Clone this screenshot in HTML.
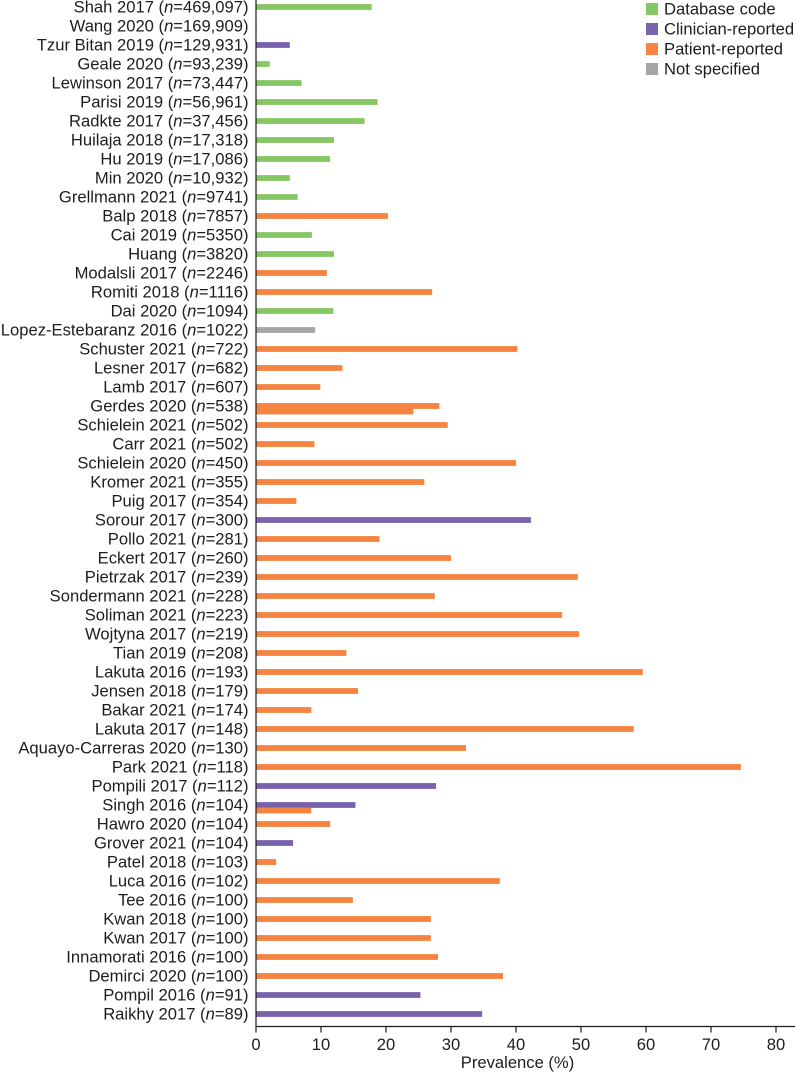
<!DOCTYPE html>
<html lang="en">
<head>
<meta charset="utf-8">
<title>Prevalence by study</title>
<style>
html,body{margin:0;padding:0;background:#fff;}
svg{display:block;font-family:"Liberation Sans",sans-serif;fill:#1d1d1b;}
</style>
</head>
<body>
<svg id="chart" xmlns="http://www.w3.org/2000/svg" width="796" height="1072" viewBox="0 0 796 1072">
  <g id="bars"></g>
  <g id="labels"></g>
  <g id="axis"></g>
  <g id="legend"></g>
</svg>
<script>
const studyNames = ["Shah 2017","Wang 2020","Tzur Bitan 2019","Geale 2020","Lewinson 2017","Parisi 2019","Radkte 2017","Huilaja 2018","Hu 2019","Min 2020","Grellmann 2021","Balp 2018","Cai 2019","Huang","Modalsli 2017","Romiti 2018","Dai 2020","Lopez-Estebaranz 2016","Schuster 2021","Lesner 2017","Lamb 2017","Gerdes 2020","Schielein 2021","Carr 2021","Schielein 2020","Kromer 2021","Puig 2017","Sorour 2017","Pollo 2021","Eckert 2017","Pietrzak 2017","Sondermann 2021","Soliman 2021","Wojtyna 2017","Tian 2019","Lakuta 2016","Jensen 2018","Bakar 2021","Lakuta 2017","Aquayo-Carreras 2020","Park 2021","Pompili 2017","Singh 2016","Hawro 2020","Grover 2021","Patel 2018","Luca 2016","Tee 2016","Kwan 2018","Kwan 2017","Innamorati 2016","Demirci 2020","Pompil 2016","Raikhy 2017"];
const sampleSizes = ["469,097","169,909","129,931","93,239","73,447","56,961","37,456","17,318","17,086","10,932","9741","7857","5350","3820","2246","1116","1094","1022","722","682","607","538","502","502","450","355","354","300","281","260","239","228","223","219","208","193","179","174","148","130","118","112","104","104","104","103","102","100","100","100","100","100","91","89"];
const primaryValues = [17.8,0.1,5.2,2.1,7.0,18.7,16.7,12.0,11.4,5.2,6.4,20.3,8.6,12.0,10.9,27.1,11.9,9.1,40.2,13.3,9.9,28.2,29.5,9.0,40.0,25.9,6.2,42.3,19.0,30.0,49.5,27.5,47.1,49.7,13.9,59.5,15.7,8.5,58.1,32.3,74.6,27.7,15.3,11.4,5.7,3.1,37.5,14.9,26.9,26.9,28.0,38.0,25.3,34.8];
const primaryMethods = ["D","D","C","D","D","D","D","D","D","D","D","P","D","D","P","P","D","N","P","P","P","P","P","P","P","P","P","C","P","P","P","P","P","P","P","P","P","P","P","P","P","C","C","P","C","P","P","P","P","P","P","P","C","C"];
const secondaryStudies = ["Gerdes 2020","Singh 2016"];
const secondaryValues = [24.2,8.5];
const secondaryMethods = ["P","P"];
const xTicks = [0,10,20,30,40,50,60,70,80];
const legendKeys = ["D","C","P","N"];
const legendLabels = ["Database code","Clinician-reported","Patient-reported","Not specified"];
const methodColors = {D:"#86c764",C:"#7a63ad",P:"#f6833f",N:"#a6a5a6"};

const NS = "http://www.w3.org/2000/svg";
const FONT = 16.6;
const xScale = v => 256 + v * 6.5;
const yScale = i => 7 + i * 19;
const BAR_H = 5.8;

function make(tag, attrs, parent) {
  const el = document.createElementNS(NS, tag);
  for (const k in attrs) el.setAttribute(k, attrs[k]);
  parent.appendChild(el);
  return el;
}
const slug = s => s.toLowerCase().replace(/[^a-z0-9]+/g, "-");

const barsG = document.getElementById("bars");
const labelsG = document.getElementById("labels");
const axisG = document.getElementById("axis");
const legendG = document.getElementById("legend");

studyNames.forEach((name, i) => {
  const y = yScale(i);
  const bar = make("rect", {x: xScale(0), y: y - BAR_H / 2, width: xScale(primaryValues[i]) - xScale(0), height: BAR_H, fill: methodColors[primaryMethods[i]]}, barsG);
  
  

  const label = make("text", {x: 248.5, y: y + 5.7, "text-anchor": "end", "font-size": FONT}, labelsG);
  
  
  const pre = make("tspan", {}, label);
  pre.textContent = name + " (";
  const it = make("tspan", {"font-style": "italic"}, label);
  it.textContent = "n";
  const post = make("tspan", {}, label);
  post.textContent = "=" + sampleSizes[i] + ")";
});

secondaryStudies.forEach((name, j) => {
  const i = studyNames.indexOf(name);
  const y = yScale(i) + BAR_H / 2;
  const bar = make("rect", {x: xScale(0), y: y - 0.3, width: xScale(secondaryValues[j]) - xScale(0), height: BAR_H, fill: methodColors[secondaryMethods[j]]}, barsG);
  
  
});

const yLine = make("line", {x1: 256, x2: 256, y1: 0, y2: 1026.5, stroke: "#1d1d1b", "stroke-width": 1.2}, axisG);


const xLine = make("line", {x1: 255.4, x2: 795, y1: 1026.5, y2: 1026.5, stroke: "#1d1d1b", "stroke-width": 1.2}, axisG);



xTicks.forEach(t => {
  const x = xScale(t);
  const tick = make("line", {x1: x, x2: x, y1: 1026.5, y2: 1032.5, stroke: "#1d1d1b", "stroke-width": 1.2}, axisG);
  
  
  const txt = make("text", {x: x, y: 1050, "text-anchor": "middle", "font-size": FONT}, axisG);
  
  
  txt.textContent = t;
});

const xTitle = make("text", {x: 517.5, y: 1068, "text-anchor": "middle", "font-size": FONT}, axisG);


xTitle.textContent = "Prevalence (%)";

legendKeys.forEach((k, i) => {
  const y = 9 + i * 20;
  const swatch = make("rect", {x: 646, y: y - 6, width: 12, height: 12, fill: methodColors[k]}, legendG);
  
  
  const txt = make("text", {x: 664, y: y + 5.5, "font-size": FONT}, legendG);
  
  
  txt.textContent = legendLabels[i];
});
</script>
</body>
</html>
